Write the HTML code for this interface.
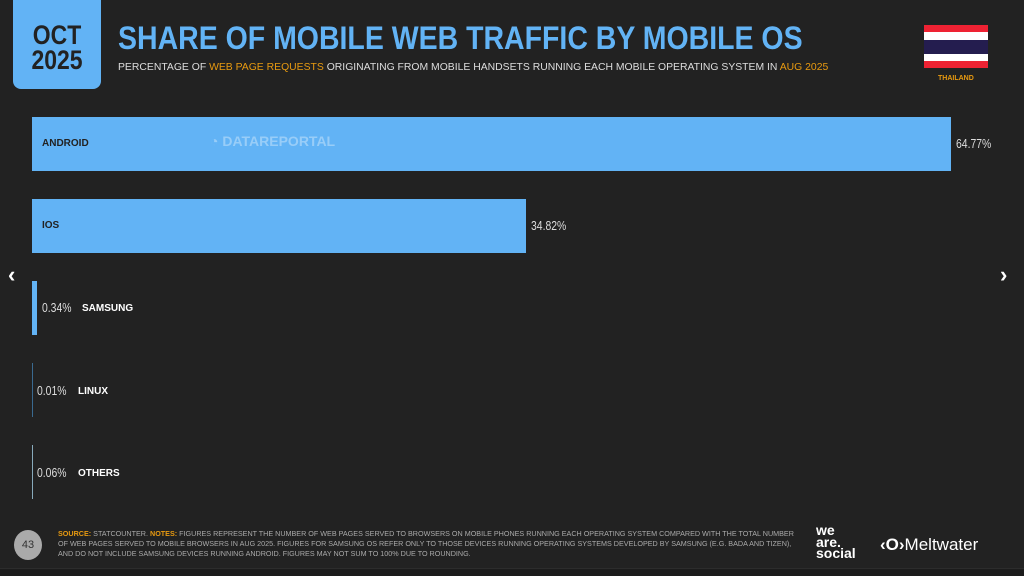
<!DOCTYPE html>
<html><head><meta charset="utf-8"><style>
*{margin:0;padding:0;box-sizing:border-box}
body{width:1024px;height:576px;background:#222222;font-family:"Liberation Sans",sans-serif;position:relative;overflow:hidden;color:#fff}
.abs{position:absolute}
.badge{left:13px;top:0;width:88px;height:89px;background:#62b3f5;border-radius:0 0 8px 8px;color:#222;font-weight:bold;font-size:27px;line-height:25px;text-align:center;padding-top:23px}
.badge span{display:inline-block;transform:scaleX(0.85)}
.title{left:118px;top:20px;font-size:32px;font-weight:bold;color:#62b3f5;white-space:nowrap;transform:scaleX(0.89);transform-origin:left top}
.sub{left:118px;top:61px;font-size:10.5px;color:#ddd;white-space:nowrap;transform:scaleX(0.99);transform-origin:left top}
.o{color:#e89a10}
.bar{background:#62b3f5}
.lbl{font-size:10px;font-weight:bold;color:#fff}
.val{font-size:13px;color:#ddd;transform:scaleX(0.8);transform-origin:left top}
.foot{left:58px;top:529px;font-size:7.2px;color:#aaa;line-height:10px;width:745px}
</style></head><body>
<div class="abs badge"><span>OCT<br>2025</span></div>
<div class="abs title">SHARE OF MOBILE WEB TRAFFIC BY MOBILE OS</div>
<div class="abs sub">PERCENTAGE OF <span class="o">WEB PAGE REQUESTS</span> ORIGINATING FROM MOBILE HANDSETS RUNNING EACH MOBILE OPERATING SYSTEM IN <span class="o">AUG 2025</span></div>
<div class="abs" style="left:924px;top:25px;width:64px;height:43px;background:#ee2233"></div>
<div class="abs" style="left:924px;top:32px;width:64px;height:29px;background:#fff"></div>
<div class="abs" style="left:924px;top:40px;width:64px;height:14px;background:#241d4f"></div>
<div class="abs" style="left:938px;top:75px;font-size:7px;font-weight:bold;color:#e89a10">THAILAND</div>

<div class="abs bar" style="left:32px;top:117px;width:919px;height:54px"></div>
<div class="abs lbl" style="left:42px;top:138px;color:#222">ANDROID</div>
<div class="abs" style="left:210px;top:133px;font-size:14px;font-weight:bold;color:rgba(255,255,255,0.35)">◔ DATAREPORTAL</div>
<div class="abs val" style="left:956px;top:136px">64.77%</div>

<div class="abs bar" style="left:32px;top:199px;width:494px;height:54px"></div>
<div class="abs lbl" style="left:42px;top:220px;color:#222">IOS</div>
<div class="abs val" style="left:531px;top:218px">34.82%</div>

<div class="abs bar" style="left:32px;top:281px;width:5px;height:54px"></div>
<div class="abs val" style="left:42px;top:300px">0.34%</div>
<div class="abs lbl" style="left:82px;top:303px">SAMSUNG</div>

<div class="abs" style="left:32px;top:363px;width:1px;height:54px;background:#3a6a90"></div>
<div class="abs val" style="left:37px;top:383px">0.01%</div>
<div class="abs lbl" style="left:78px;top:386px">LINUX</div>

<div class="abs" style="left:32px;top:445px;width:1px;height:54px;background:#8ab"></div>
<div class="abs val" style="left:37px;top:465px">0.06%</div>
<div class="abs lbl" style="left:78px;top:468px">OTHERS</div>

<div class="abs" style="left:8px;top:262px;font-size:22px;font-weight:bold">&#8249;</div>
<div class="abs" style="left:1000px;top:262px;font-size:22px;font-weight:bold">&#8250;</div>

<div class="abs" style="left:14px;top:530px;width:28px;height:30px;border-radius:50%;background:#aaa;color:#333;font-size:11px;text-align:center;line-height:30px">43</div>
<div class="abs foot"><b class="o">SOURCE:</b> STATCOUNTER. <b class="o">NOTES:</b> FIGURES REPRESENT THE NUMBER OF WEB PAGES SERVED TO BROWSERS ON MOBILE PHONES RUNNING EACH OPERATING SYSTEM COMPARED WITH THE TOTAL NUMBER OF WEB PAGES SERVED TO MOBILE BROWSERS IN AUG 2025. FIGURES FOR SAMSUNG OS REFER ONLY TO THOSE DEVICES RUNNING OPERATING SYSTEMS DEVELOPED BY SAMSUNG (E.G. BADA AND TIZEN), AND DO NOT INCLUDE SAMSUNG DEVICES RUNNING ANDROID. FIGURES MAY NOT SUM TO 100% DUE TO ROUNDING.</div>
<div class="abs" style="left:816px;top:525px;font-size:14px;font-weight:bold;line-height:11.5px">we<br>are.<br>social</div>
<div class="abs" style="left:880px;top:535px;font-size:17px;color:#fff;white-space:nowrap"><b>‹O›</b>Meltwater</div>
<div class="abs" style="left:0;top:568px;width:1024px;height:8px;background:#1c1c1c;border-top:1px solid #2c2c2c"></div>
</body></html>
